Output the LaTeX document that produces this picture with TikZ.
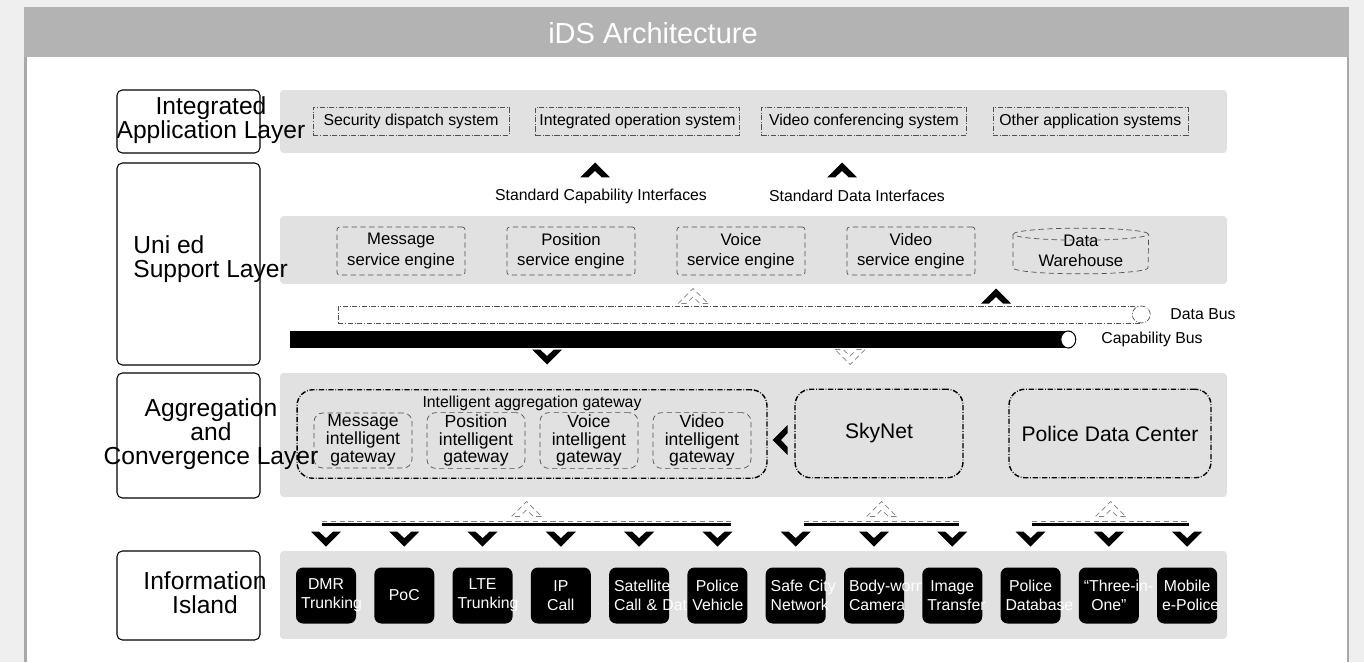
\documentclass[tikz,border=0pt]{standalone}
\usepackage{fontspec}
\setmainfont{Liberation Sans}
\usepackage{tikz}
\usetikzlibrary{positioning, calc}

\hyphenpenalty=10000
\exhyphenpenalty=10000

\definecolor{bgout}{HTML}{EFEFEF}
\definecolor{titlegray}{HTML}{B3B3B3}
\definecolor{panelgray}{HTML}{E1E1E1}
\definecolor{framegray}{HTML}{A8A8A8}
\definecolor{dashgray}{HTML}{505050}

\tikzstyle{layerbox} = [rectangle, rounded corners=3pt, draw=black, fill=white, line width=0.6pt, minimum width=2.86cm]
\tikzstyle{layertext} = [align=center, inner sep=0pt, font=\fontsize{14}{13.6}\selectfont]
\tikzstyle{panel} = [rectangle, rounded corners=2pt, fill=panelgray, minimum width=18.94cm]
\tikzstyle{appsys} = [rectangle, draw=dashgray, densely dash dot, minimum height=0.56cm, inner xsep=2pt, font=\fontsize{9}{11}\selectfont]
\tikzstyle{engine} = [rectangle, rounded corners=1.5pt, draw=dashgray, densely dashed, minimum width=2.56cm, minimum height=0.96cm, align=center, font=\fontsize{9.5}{11.5}\selectfont]
\tikzstyle{gateway} = [rectangle, rounded corners=5pt, draw=dashgray, densely dashed, minimum width=1.96cm, minimum height=1.06cm, align=center, inner sep=1pt, font=\fontsize{10}{10.2}\selectfont]
\tikzstyle{region} = [rectangle, rounded corners=9pt, draw=black, densely dash dot, line width=0.8pt, minimum height=1.77cm, font=\fontsize{12}{14}\selectfont]
\tikzstyle{island} = [rectangle, rounded corners=4pt, fill=black, text=white, text width=1.0cm, inner xsep=0.1cm, minimum height=1.12cm, align=center, font=\fontsize{9}{10.8}\selectfont]
\tikzstyle{plain} = [font=\fontsize{9}{11}\selectfont]
\tikzstyle{busdash} = [gray, densely dashed, line width=0.4pt]
\tikzstyle{busline} = [line width=1.6pt]

\tikzset{
  chev/.pic={\fill (-15,-7.5) -- (-7,-7.5) -- (0,-1) -- (7,-7.5) -- (15,-7.5) -- (0,7.5) -- cycle;},
  hollowchev/.pic={\filldraw[fill=white, draw=gray, densely dashed, line width=0.4pt] (-15,-7.5) -- (-7,-7.5) -- (0,-1) -- (7,-7.5) -- (15,-7.5) -- (0,7.5) -- cycle;}
}

\begin{document}
\begin{tikzpicture}[x=0.02cm, y=-0.02cm, node distance=1.566cm]
        \useasboundingbox (0,0) rectangle (1364,662);
        % frame and title bar
        \fill[bgout] (0,0) rectangle (1364,662);
        \fill[framegray] (24,57) rectangle (1349,662);
        \fill[white] (26.5,57) rectangle (1347,662);
        \fill[titlegray] (24,7) rectangle (1349,57);
        \node (title) [text=white, font=\fontsize{16.5}{20}\selectfont] at (653,33) {iDS Architecture};

        % layer boxes on the left
        \node (lapp) [layerbox, minimum height=1.26cm] at (188.5,121.5) {};
        \node (lsup) [layerbox, minimum height=4.04cm] at (188.5,264) {};
        \node (lagg) [layerbox, minimum height=2.5cm] at (188.5,435.5) {};
        \node (linf) [layerbox, minimum height=1.78cm] at (188.5,595.5) {};

        % gray panels
        \node (papp) [panel, minimum height=1.26cm] at (753.5,121.5) {};
        \node (psup) [panel, minimum height=1.36cm] at (753.5,250) {};
        \node (pagg) [panel, minimum height=2.48cm] at (753.5,435) {};
        \node (pinf) [panel, minimum height=1.76cm] at (753.5,595) {};

        % integrated application layer
        \node (sec) [appsys, minimum width=3.92cm] at (411,121) {Security dispatch system};
        \node (iop) [appsys, minimum width=4.08cm, node distance=4.53cm, right of=sec] {Integrated operation system};
        \node (vcs) [appsys, minimum width=4.1cm, node distance=4.53cm, right of=iop] {Video conferencing system};
        \node (oth) [appsys, minimum width=3.9cm, node distance=4.53cm, right of=vcs] {Other application systems};

        \pic[rotate=180] at (595,170) {chev};
        \pic[rotate=180] at (842,170) {chev};
        \node (capif) [plain] at (601,196) {Standard Capability Interfaces};
        \node (datif) [plain] at (857,196) {Standard Data Interfaces};

        % unified support layer
        \node (msg) [engine] at (401,251) {Message\\service engine};
        \node (pos) [engine, node distance=3.4cm, right of=msg] {Position\\service engine};
        \node (voi) [engine, node distance=3.4cm, right of=pos] {Voice\\service engine};
        \node (vid) [engine, node distance=3.4cm, right of=voi] {Video\\service engine};
        \node (dw) [rectangle, minimum width=2.7cm, minimum height=0.9cm, align=center, font=\fontsize{9.5}{11.5}\selectfont, node distance=3.4cm, right of=vid] {Data\\Warehouse};
        \draw[dashgray, densely dashed] ([yshift=-0.12cm]dw.north) ellipse [x radius=1.35cm, y radius=0.12cm];
        \draw[dashgray, densely dashed] ([yshift=-0.12cm]dw.north west) -- ([yshift=0.12cm]dw.south west) arc [start angle=180, end angle=360, x radius=1.35cm, y radius=0.12cm] -- ([yshift=-0.12cm]dw.north east);

        % buses
        \node (dbus) [rectangle, draw=dashgray, densely dash dot, fill=white, minimum width=16.06cm, minimum height=0.34cm] at (739.5,314.5) {};
        \draw[dashgray, densely dash dot, fill=white] (dbus.east) ellipse [x radius=0.18cm, y radius=0.17cm];
        \node (dbuslbl) [plain, right=0.46cm of dbus.east] {Data Bus};
        \node (cbus) [rectangle, fill=black, minimum width=15.56cm, minimum height=0.34cm] at (679,339.5) {};
        \draw[fill=white, line width=0.6pt] (cbus.east) ellipse [x radius=0.15cm, y radius=0.17cm];
        \node (cbuslbl) [plain, right=0.54cm of cbus.east] {Capability Bus};

        \pic[rotate=180] at (693,296) {hollowchev};
        \pic[rotate=180] at (996,296) {chev};
        \pic at (547,357) {chev};
        \pic at (850,357) {hollowchev};

        % aggregation and convergence layer
        \node (gw) [region, minimum width=9.4cm] at (532,434) {};
        \node (gwtitle) [plain, below=0.02cm of gw.north] {Intelligent aggregation gateway};
        \node (mig) [gateway] at (363,440.5) {Message\\intelligent\\gateway};
        \node (pig) [gateway, node distance=2.26cm, right of=mig] {Position\\intelligent\\gateway};
        \node (vig) [gateway, node distance=2.26cm, right of=pig] {Voice\\intelligent\\gateway};
        \node (vdg) [gateway, node distance=2.26cm, right of=vig] {Video\\intelligent\\gateway};
        \node (sky) [region, minimum width=3.36cm] at (879,433.5) {SkyNet};
        \node (pdc) [region, minimum width=4.04cm] at (1110,433.5) {Police Data Center};
        \pic[rotate=-90] at (780,440) {chev};

        % information island
        \node (dmr) [island] at (326,595.5) {DMR\\Trunking};
        \node (poc) [island, right of=dmr] {PoC};
        \node (lte) [island, right of=poc] {LTE\\Trunking};
        \node (ipc) [island, right of=lte] {IP\\Call};
        \node (sat) [island, right of=ipc] {Satellite\\Call~\&~Data};
        \node (veh) [island, right of=sat] {Police\\Vehicle};
        \node (scn) [island, right of=veh] {Safe~City\\Network};
        \node (bwc) [island, right of=scn] {Body-worn\\Camera};
        \node (img) [island, right of=bwc] {Image\\Transfer};
        \node (pdb) [island, right of=img] {Police\\Database};
        \node (tio) [island, right of=pdb] {“Three-in-\\One”};
        \node (mep) [island, right of=tio] {Mobile\\e-Police};

        \pic at ([yshift=0.56cm]dmr.north) {chev};
        \pic at ([yshift=0.56cm]poc.north) {chev};
        \pic at ([yshift=0.56cm]lte.north) {chev};
        \pic at ([yshift=0.56cm]ipc.north) {chev};
        \pic at ([yshift=0.56cm]sat.north) {chev};
        \pic at ([yshift=0.56cm]veh.north) {chev};
        \pic at ([yshift=0.56cm]scn.north) {chev};
        \pic at ([yshift=0.56cm]bwc.north) {chev};
        \pic at ([yshift=0.56cm]img.north) {chev};
        \pic at ([yshift=0.56cm]pdb.north) {chev};
        \pic at ([yshift=0.56cm]tio.north) {chev};
        \pic at ([yshift=0.56cm]mep.north) {chev};

        % access buses
        \coordinate (bus1w) at (322,521);
        \coordinate (bus1e) at (731,521);
        \coordinate (bus2w) at (804,521);
        \coordinate (bus2e) at (959,521);
        \coordinate (bus3w) at (1032,521);
        \coordinate (bus3e) at (1189,521);
        \draw[busdash] (bus1w) -- (bus1e);
        \draw[busline] ([yshift=-0.07cm]bus1w) -- ([yshift=-0.07cm]bus1e);
        \draw[busdash] (bus2w) -- (bus2e);
        \draw[busline] ([yshift=-0.07cm]bus2w) -- ([yshift=-0.07cm]bus2e);
        \draw[busdash] (bus3w) -- (bus3e);
        \draw[busline] ([yshift=-0.07cm]bus3w) -- ([yshift=-0.07cm]bus3e);
        \pic[rotate=180] at ($(bus1w)!0.5!(bus1e)+(0,-12)$) {hollowchev};
        \pic[rotate=180] at ($(bus2w)!0.5!(bus2e)+(0,-12)$) {hollowchev};
        \pic[rotate=180] at ($(bus3w)!0.5!(bus3e)+(0,-12)$) {hollowchev};

        % layer names
        \node (tapp) [layertext] at (211,120) {Integrated\\Application Layer};
        \node (tsup) [layertext, align=left, anchor=west] at (133,259) {Uni ed\\Support Layer};
        \node (tagg) [layertext] at (211,434) {Aggregation\\and\\Convergence Layer};
        \node (tinf) [layertext] at (205,593) {Information\\Island};
\end{tikzpicture}
\end{document}
